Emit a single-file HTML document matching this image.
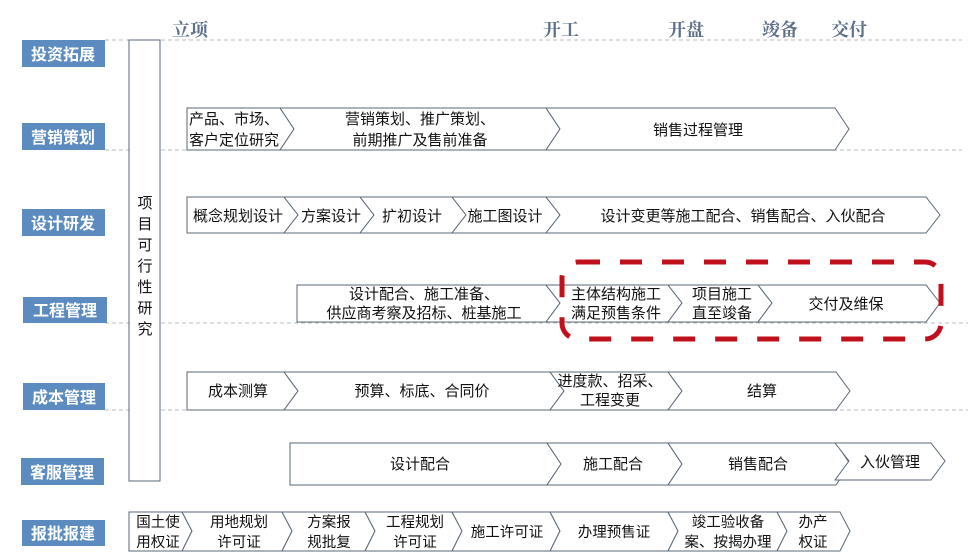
<!DOCTYPE html>
<html><head><meta charset="utf-8"><style>
body{margin:0;background:#fff;width:968px;height:558px;overflow:hidden}
svg{display:block;font-family:"Liberation Sans","Noto Sans CJK SC",sans-serif}
.b{fill:#fff;stroke:#5a6775;stroke-width:1}
.t{font-size:15px;fill:#111;text-anchor:middle}
.s{font-size:14.5px;fill:#111;text-anchor:middle}
.l{font-size:16px;font-weight:bold;fill:#fff;text-anchor:middle}
.h{font-family:"Liberation Serif","Noto Serif CJK SC",serif;font-size:18px;font-weight:bold;fill:#5d7088}
.d{stroke:#b8bcc0;stroke-width:1;stroke-dasharray:4 3}
</style></head><body>
<svg width="968" height="558" viewBox="0 0 968 558">
<line class="d" x1="105" y1="40" x2="962" y2="40"/>
<line class="d" x1="105" y1="150" x2="962" y2="150"/>
<line class="d" x1="105" y1="323" x2="968" y2="323"/>
<line class="d" x1="105" y1="410" x2="968" y2="410"/>
<text class="h" x="172" y="36">立项</text>
<text class="h" x="543" y="36">开工</text>
<text class="h" x="668" y="36">开盘</text>
<text class="h" x="762" y="36">竣备</text>
<text class="h" x="831" y="36">交付</text>
<g fill="#5b8bbf">
<rect x="22" y="40" width="83" height="27"/>
<rect x="22" y="123" width="83" height="27"/>
<rect x="22" y="209" width="83" height="27"/>
<rect x="23" y="297" width="84" height="26"/>
<rect x="23" y="383" width="82" height="27"/>
<rect x="21" y="458" width="83" height="27"/>
<rect x="22" y="520" width="83" height="26"/>
</g>
<text class="l" x="63" y="60">投资拓展</text>
<text class="l" x="63" y="143">营销策划</text>
<text class="l" x="63" y="229">设计研发</text>
<text class="l" x="65" y="316">工程管理</text>
<text class="l" x="64" y="403">成本管理</text>
<text class="l" x="62" y="478">客服管理</text>
<text class="l" x="63" y="539">报批报建</text>
<rect class="b" x="129" y="40" width="31" height="441"/>
<g class="t" style="font-size:15px">
<text x="145" y="208">项</text><text x="145" y="229">目</text><text x="145" y="250">可</text><text x="145" y="271">行</text><text x="145" y="292">性</text><text x="145" y="313">研</text><text x="145" y="334">究</text>
</g>
<!-- 营销 -->
<polygon class="b" points="187,108 280,108 294,129 280,150 187,150"/>
<polygon class="b" points="280,108 546,108 560,129 546,150 280,150 294,129"/>
<polygon class="b" points="546,108 835,108 849,129 835,150 546,150 560,129"/>
<text class="t" x="189" y="124" style="text-anchor:start">产品、市场、</text>
<text class="t" x="189" y="145" style="text-anchor:start">客户定位研究</text>
<text class="t" x="420" y="124">营销策划、推广策划、</text>
<text class="t" x="420" y="145">前期推广及售前准备</text>
<text class="t" x="698" y="135">销售过程管理</text>
<!-- 设计 -->
<polygon class="b" points="187,197 284,197 298,215 284,233 187,233"/>
<polygon class="b" points="284,197 360,197 374,215 360,233 284,233 298,215"/>
<polygon class="b" points="360,197 452,197 466,215 452,233 360,233 374,215"/>
<polygon class="b" points="452,197 546,197 560,215 546,233 452,233 466,215"/>
<polygon class="b" points="546,197 926,197 940,215 926,233 546,233 560,215"/>
<text class="t" x="238" y="221">概念规划设计</text>
<text class="t" x="331" y="221">方案设计</text>
<text class="t" x="412" y="221">扩初设计</text>
<text class="t" x="505" y="221">施工图设计</text>
<text class="t" x="743" y="221">设计变更等施工配合、销售配合、入伙配合</text>
<!-- 工程 -->
<polygon class="b" points="297,285 546,285 560,303 546,322 297,322"/>
<polygon class="b" points="546,285 668,285 682,303 668,322 546,322 560,303"/>
<polygon class="b" points="668,285 758,285 772,303 758,322 668,322 682,303"/>
<polygon class="b" points="758,285 926,285 940,303 926,322 758,322 772,303"/>
<text class="t" x="424" y="299">设计配合、施工准备、</text>
<text class="t" x="424" y="318">供应商考察及招标、桩基施工</text>
<text class="t" x="616" y="299">主体结构施工</text>
<text class="t" x="616" y="318">满足预售条件</text>
<text class="t" x="722" y="299">项目施工</text>
<text class="t" x="722" y="318">直至竣备</text>
<text class="t" x="846" y="309">交付及维保</text>
<rect x="562" y="262" width="379" height="77" rx="16" fill="none" stroke="#c0101c" stroke-width="5" stroke-dasharray="22 20"/>
<!-- 成本 -->
<polygon class="b" points="187,372 284,372 298,391 284,410 187,410"/>
<polygon class="b" points="284,372 550,372 564,391 550,410 284,410 298,391"/>
<polygon class="b" points="550,372 668,372 682,391 668,410 550,410 564,391"/>
<polygon class="b" points="668,372 836,372 850,391 836,410 668,410 682,391"/>
<text class="t" x="238" y="396">成本测算</text>
<text class="t" x="422" y="396">预算、标底、合同价</text>
<text class="t" x="610" y="386">进度款、招采、</text>
<text class="t" x="610" y="405">工程变更</text>
<text class="t" x="762" y="396">结算</text>
<!-- 客服 -->
<polygon class="b" points="290,443 547,443 561,464 547,485 290,485"/>
<polygon class="b" points="547,443 668,443 682,464 668,485 547,485 561,464"/>
<polygon class="b" points="668,443 836,443 850,464 836,485 668,485 682,464"/>
<polygon class="b" points="835,443 931,443 945,461 931,480 835,480 849,461"/>
<text class="t" x="420" y="469">设计配合</text>
<text class="t" x="613" y="469">施工配合</text>
<text class="t" x="758" y="469">销售配合</text>
<text class="t" x="890" y="467">入伙管理</text>
<!-- 报批 -->
<polygon class="b" points="129,512 182,512 192,531 182,551 129,551"/>
<polygon class="b" points="182,512 282,512 292,531 282,551 182,551 192,531"/>
<polygon class="b" points="282,512 365,512 375,531 365,551 282,551 292,531"/>
<polygon class="b" points="365,512 452,512 462,531 452,551 365,551 375,531"/>
<polygon class="b" points="452,512 550,512 560,531 550,551 452,551 462,531"/>
<polygon class="b" points="550,512 668,512 678,531 668,551 550,551 560,531"/>
<polygon class="b" points="668,512 777,512 787,531 777,551 668,551 678,531"/>
<polygon class="b" points="777,512 840,512 850,531 840,551 777,551 787,531"/>
<text class="s" x="158" y="527">国土使</text><text class="s" x="158" y="547">用权证</text>
<text class="s" x="239" y="527">用地规划</text><text class="s" x="239" y="547">许可证</text>
<text class="s" x="329" y="527">方案报</text><text class="s" x="329" y="547">规批复</text>
<text class="s" x="415" y="527">工程规划</text><text class="s" x="415" y="547">许可证</text>
<text class="s" x="507" y="537">施工许可证</text>
<text class="s" x="614" y="537">办理预售证</text>
<text class="s" x="728" y="527">竣工验收备</text><text class="s" x="728" y="547">案、按揭办理</text>
<text class="s" x="813" y="527">办产</text><text class="s" x="813" y="547">权证</text>
</svg>
</body></html>
